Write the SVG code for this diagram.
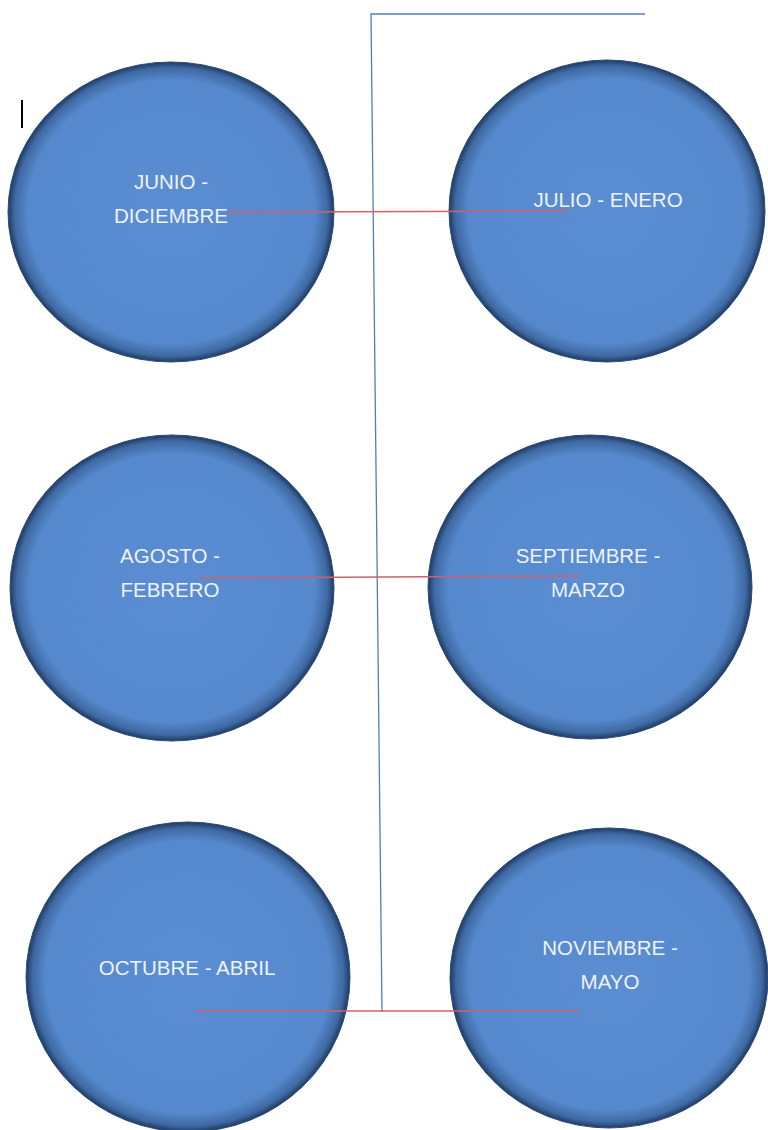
<svg xmlns="http://www.w3.org/2000/svg" width="768" height="1130" viewBox="0 0 768 1130">
<style>
.node ellipse{fill:url(#g);stroke:#2a4a78;stroke-width:1}
.node text{font-family:"Liberation Sans",Arial,sans-serif;font-size:20.5px;fill:#eef3fb;text-anchor:middle}
.blue{stroke:#4f7fb8;stroke-width:1.3;fill:none}
.red{stroke:#d0606a;stroke-width:1.5;fill:none}
</style>
<defs>
<radialGradient id="g" cx="0.5" cy="0.5" r="0.5">
<stop offset="0" stop-color="#5a8dd1"/>
<stop offset="0.88" stop-color="#5588cc"/>
<stop offset="0.96" stop-color="#3f6aa3"/>
<stop offset="1" stop-color="#1f3a62"/>
</radialGradient>
</defs>
<rect width="768" height="1130" fill="#ffffff"/>
<line x1="22" y1="100" x2="22" y2="128" stroke="#000" stroke-width="2"/>
<g id="n1" class="node"><ellipse cx="171" cy="212" rx="163" ry="150"/><text x="171" y="189">JUNIO -</text><text x="171" y="223">DICIEMBRE</text></g>
<g id="n2" class="node"><ellipse cx="607" cy="211" rx="158" ry="151"/><text x="608" y="207">JULIO - ENERO</text></g>
<g id="n3" class="node"><ellipse cx="172" cy="588" rx="162" ry="153"/><text x="170" y="563">AGOSTO -</text><text x="170" y="597">FEBRERO</text></g>
<g id="n4" class="node"><ellipse cx="590" cy="587" rx="162" ry="152"/><text x="588" y="563">SEPTIEMBRE -</text><text x="588" y="597">MARZO</text></g>
<g id="n5" class="node"><ellipse cx="188" cy="977" rx="162" ry="155"/><text x="187" y="975">OCTUBRE - ABRIL</text></g>
<g id="n6" class="node"><ellipse cx="609" cy="978" rx="159" ry="150"/><text x="610" y="955">NOVIEMBRE -</text><text x="610" y="989">MAYO</text></g>
<g id="connectors">
<polyline class="blue" points="645,14 371,14 382,1012"/>
<line class="red" x1="228" y1="212" x2="568" y2="211"/>
<line class="red" x1="200" y1="578" x2="580" y2="576"/>
<line class="red" x1="196" y1="1011" x2="580" y2="1011"/>
</g>
</svg>
